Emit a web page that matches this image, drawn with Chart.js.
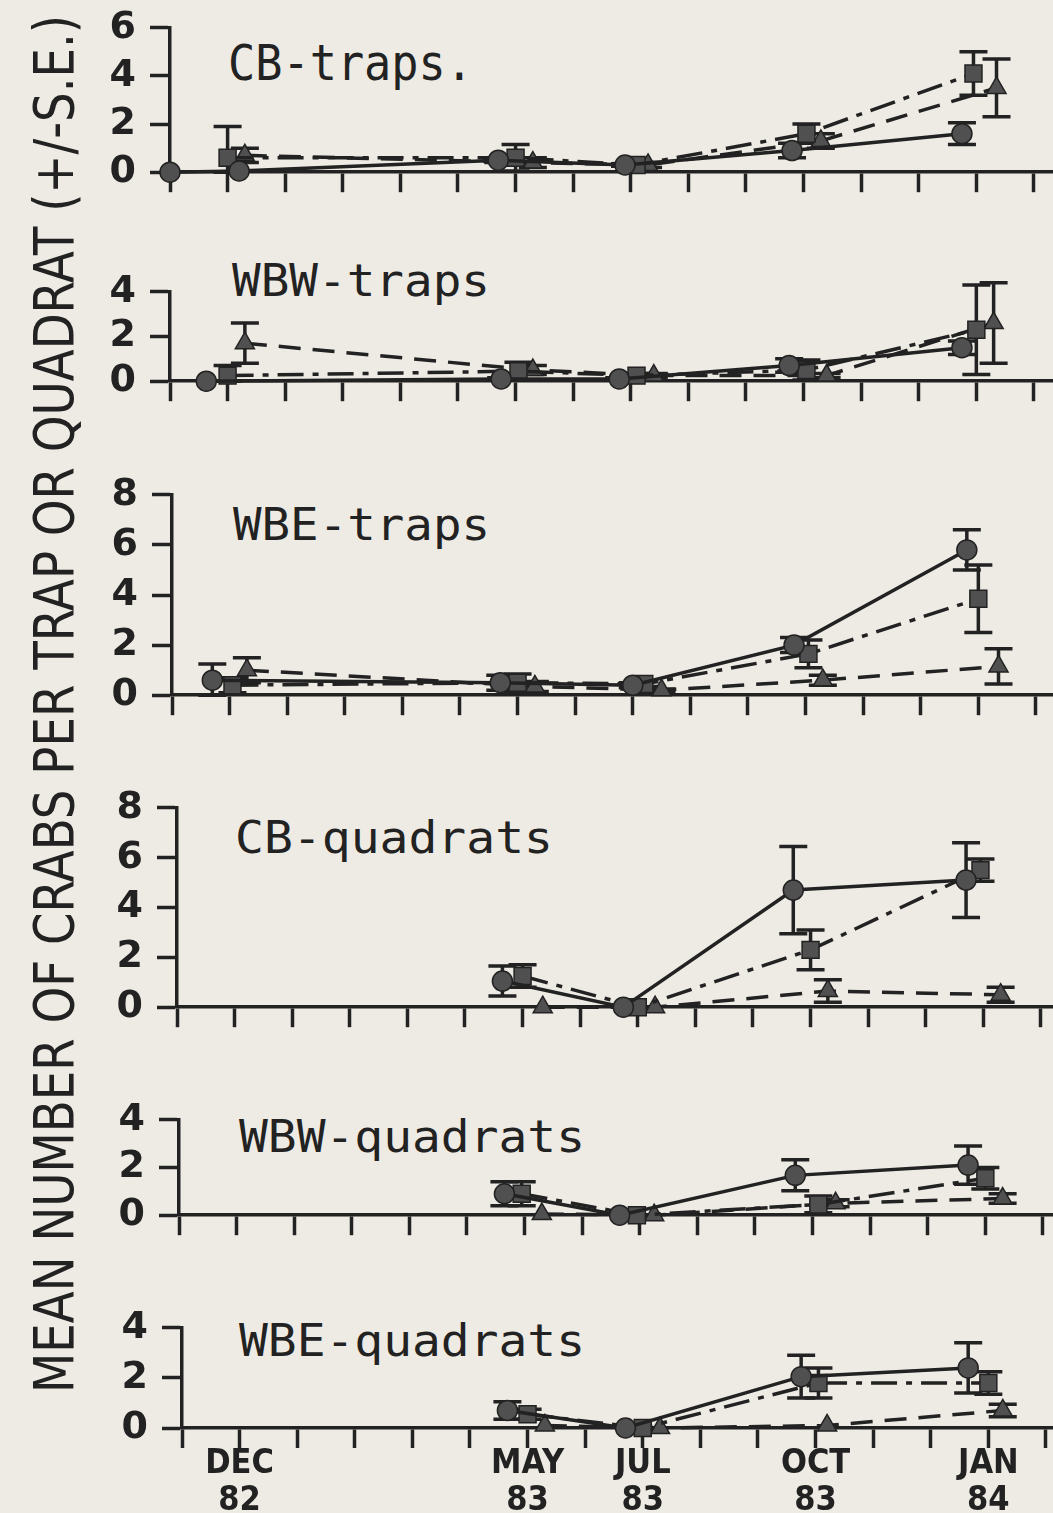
<!DOCTYPE html>
<html><head><meta charset="utf-8">
<script src="https://cdn.jsdelivr.net/npm/chart.js@4.4.0/dist/chart.umd.min.js"></script>
<style>
html,body{margin:0;padding:0;background:#eeebe4;width:1053px;height:1513px;overflow:hidden;position:relative;}
canvas{position:absolute;left:0;}
#ov{position:absolute;left:0;top:0;pointer-events:none;}
</style></head><body>
<svg id="ov" width="1053" height="1513" xmlns="http://www.w3.org/2000/svg"></svg>
<script>
// ---------- DATA ----------
// x = months after Nov 1982 (DEC 82 = 1, MAY 83 = 6, JUL 83 = 8, OCT 83 = 11, JAN 84 = 14);
// points of the three series are plotted slightly offset around each date, as in the original.
const MONTH_TICKS  = [1, 6, 8, 11, 14];
const MONTH_LABELS = [['DEC','82'], ['MAY','83'], ['JUL','83'], ['OCT','83'], ['JAN','84']];
const PANEL_TITLES = ['CB-traps.', 'WBW-traps', 'WBE-traps', 'CB-quadrats', 'WBW-quadrats', 'WBE-quadrats'];
const PANEL_YMAX   = [6, 4, 8, 8, 4, 4];
const Y_TITLE = 'MEAN NUMBER OF CRABS PER TRAP OR QUADRAT (+/-S.E.)';

// each panel: [circle/solid, square/dash-dot, triangle/dashed]
const CB_TRAPS_X  = [[0, 1.2, 5.7, 7.9, 10.8, 13.75], [1.0, 6.0, 8.1, 11.05, 13.95], [1.3, 6.3, 8.3, 11.3, 14.35]];
const CB_TRAPS_Y  = [[0, 0.05, 0.5, 0.3, 0.9, 1.6],   [0.6, 0.6, 0.3, 1.6, 4.1],     [0.7, 0.4, 0.3, 1.3, 3.5]];
const CB_TRAPS_SE = [[0, 0, 0.1, 0.05, 0.3, 0.45],    [1.3, 0.55, 0.1, 0.4, 0.9],    [0.3, 0.2, 0.1, 0.3, 1.2]];

const WBW_TRAPS_X  = [[0.63, 5.75, 7.8, 10.75, 13.75], [1.0, 6.05, 8.1, 11.05, 14.0], [1.3, 6.3, 8.4, 11.4, 14.3]];
const WBW_TRAPS_Y  = [[0, 0.1, 0.1, 0.7, 1.5],         [0.25, 0.45, 0.25, 0.5, 2.3], [1.7, 0.5, 0.25, 0.25, 2.6]];
const WBW_TRAPS_SE = [[0, 0.05, 0.05, 0.3, 0.3],       [0.45, 0.4, 0.1, 0.45, 2.0],  [0.9, 0.2, 0.1, 0.1, 1.8]];

const WBE_TRAPS_X  = [[0.7, 5.7, 8.0, 10.8, 13.8], [1.05, 6.0, 8.2, 11.05, 14.0], [1.3, 6.3, 8.5, 11.3, 14.35]];
const WBE_TRAPS_Y  = [[0.6, 0.5, 0.4, 2.0, 5.8],   [0.4, 0.5, 0.45, 1.65, 3.85],  [1.0, 0.35, 0.2, 0.6, 1.15]];
const WBE_TRAPS_SE = [[0.65, 0.3, 0.1, 0.3, 0.8],  [0.3, 0.35, 0.1, 0.55, 1.35],  [0.5, 0.2, 0.05, 0.2, 0.7]];

const CB_QUAD_X  = [[5.65, 7.75, 10.7, 13.7], [6.0, 8.0, 11.0, 13.95], [6.35, 8.3, 11.3, 14.3]];
const CB_QUAD_Y  = [[1.05, 0, 4.7, 5.1],      [1.25, 0, 2.3, 5.5],     [0, 0, 0.65, 0.5]];
const CB_QUAD_SE = [[0.6, 0, 1.75, 1.5],      [0.45, 0, 0.8, 0.45],    [0, 0, 0.45, 0.3]];

const WBW_QUAD_X  = [[5.65, 7.65, 10.7, 13.7], [5.95, 7.95, 11.1, 14.0], [6.3, 8.25, 11.4, 14.3]];
const WBW_QUAD_Y  = [[0.9, 0, 1.67, 2.1],      [0.9, 0, 0.45, 1.55],     [0.05, 0, 0.5, 0.7]];
const WBW_QUAD_SE = [[0.5, 0, 0.65, 0.8],      [0.5, 0, 0.35, 0.45],     [0, 0, 0.15, 0.2]];

const WBE_QUAD_X  = [[5.65, 7.7, 10.75, 13.65], [6.0, 8.0, 11.05, 14.0], [6.3, 8.3, 11.2, 14.25]];
const WBE_QUAD_Y  = [[0.7, 0, 2.05, 2.4],       [0.55, 0, 1.8, 1.8],     [0.1, 0, 0.1, 0.7]];
const WBE_QUAD_SE = [[0.35, 0, 0.85, 1.0],      [0.2, 0, 0.6, 0.45],     [0, 0, 0, 0.25]];

// ---------- STYLE / LAYOUT ----------
const INK = '#222222';
const MARK = '#505050';
const X_MAX = 15.6;                 // axis runs off the right edge of the page
const PX_PER_MONTH = 58.4;
const LAYOUT = [                    // page pixels: y-axis x, top tick y, zero line y
  {axisX:170, yTop:23,   y0:175},
  {axisX:170, yTop:287,  y0:384},
  {axisX:172, yTop:490,  y0:698},
  {axisX:177, yTop:803,  y0:1010},
  {axisX:179, yTop:1115, y0:1218},
  {axisX:182, yTop:1323, y0:1428}
];
const TITLE_POS = [
  {x:228, base:80,   w:245, size:50},
  {x:232, base:296,  w:258, size:44},
  {x:233, base:540,  w:257, size:44},
  {x:235, base:853,  w:318, size:44},
  {x:239, base:1152, w:346, size:44},
  {x:239, base:1356, w:346, size:44}
];
const SERIES_STYLE = [
  {pointStyle:'circle',   radius:10, dash:[]},
  {pointStyle:'rect',     radius:12, dash:[26, 9, 6, 9]},
  {pointStyle:'triangle', radius:11, dash:[22, 12]}
];
const PANEL_DATA = [
  [CB_TRAPS_X, CB_TRAPS_Y, CB_TRAPS_SE],
  [WBW_TRAPS_X, WBW_TRAPS_Y, WBW_TRAPS_SE],
  [WBE_TRAPS_X, WBE_TRAPS_Y, WBE_TRAPS_SE],
  [CB_QUAD_X, CB_QUAD_Y, CB_QUAD_SE],
  [WBW_QUAD_X, WBW_QUAD_Y, WBW_QUAD_SE],
  [WBE_QUAD_X, WBE_QUAD_Y, WBE_QUAD_SE]
];

// error bars drawn through the chart's own scales
const errorBars = {
  id: 'errorBars',
  beforeDatasetsDraw(chart) {
    const ctx = chart.ctx, xs = chart.scales.x, ys = chart.scales.y;
    chart.data.datasets.forEach(ds => {
      ctx.save();
      ctx.strokeStyle = INK; ctx.lineWidth = 3.5; ctx.setLineDash([]);
      ds.data.forEach((p, j) => {
        const s = ds.se[j];
        if (!s) return;
        const px = xs.getPixelForValue(p.x);
        const hi = ys.getPixelForValue(p.y + s);
        const lo = ys.getPixelForValue(Math.max(0, p.y - s));
        ctx.beginPath();
        ctx.moveTo(px, hi); ctx.lineTo(px, lo);
        ctx.moveTo(px - 14, hi); ctx.lineTo(px + 14, hi);
        ctx.moveTo(px - 14, lo); ctx.lineTo(px + 14, lo);
        ctx.stroke();
      });
      ctx.restore();
    });
  }
};

function xLabel(v) {
  const k = MONTH_TICKS.indexOf(v);
  return k >= 0 ? MONTH_LABELS[k] : '';
}

LAYOUT.forEach((L, i) => {
  const padTop = 32;
  const last = i === LAYOUT.length - 1;
  const xAxisH = last ? 110 : 34;
  const w = L.axisX + Math.ceil(X_MAX * PX_PER_MONTH);
  const h = padTop + (L.y0 - L.yTop) + xAxisH;
  const cv = document.createElement('canvas');
  cv.width = w; cv.height = h;
  cv.style.width = w + 'px'; cv.style.height = h + 'px';
  cv.style.top = (L.yTop - padTop) + 'px';
  document.body.appendChild(cv);

  const [X, Y, SE] = PANEL_DATA[i];
  const datasets = X.map((xs, k) => ({
    data: xs.map((x, j) => ({x, y: Y[k][j]})),
    se: SE[k],
    showLine: true,
    borderColor: INK,
    borderWidth: 3.5,
    borderDash: SERIES_STYLE[k].dash,
    pointStyle: SERIES_STYLE[k].pointStyle,
    pointRadius: SERIES_STYLE[k].radius,
    pointBackgroundColor: MARK,
    pointBorderColor: INK,
    pointBorderWidth: 1.5,
    tension: 0,
    clip: false
  }));

  new Chart(cv, {
    type: 'scatter',
    data: { datasets },
    plugins: [errorBars],
    options: {
      responsive: false,
      animation: false,
      events: [],
      devicePixelRatio: 1,
      layout: { padding: { top: padTop, left: 0, right: 0, bottom: 0 } },
      plugins: { legend: {display:false}, tooltip: {enabled:false}, title: {display:false} },
      scales: {
        x: {
          type: 'linear', position: 'bottom', min: 0, max: X_MAX,
          afterFit: s => { s.height = xAxisH; },
          grid: { drawOnChartArea: false, drawTicks: true, tickLength: 20, tickWidth: 3.5, tickColor: INK },
          border: { display: true, color: INK, width: 3.5 },
          ticks: {
            stepSize: 1, includeBounds: false, autoSkip: false, maxRotation: 0, minRotation: 0,
            padding: -2, color: INK,
            font: { family: 'DejaVu Sans Condensed', weight: 'bold', size: 34, lineHeight: 1.08 },
            callback: v => last ? xLabel(v) : ''
          }
        },
        y: {
          type: 'linear', position: 'left', min: 0, max: PANEL_YMAX[i],
          afterFit: s => { s.width = L.axisX; },
          grid: { drawOnChartArea: false, drawTicks: true, tickLength: 20, tickWidth: 3.5, tickColor: INK },
          border: { display: true, color: INK, width: 3.5 },
          ticks: { stepSize: 2, padding: 14, color: INK, font: { family: 'DejaVu Sans', weight: 'bold', size: 38 } }
        }
      }
    }
  });
});

// titles as real SVG text
const NS = 'http://www.w3.org/2000/svg';
const ov = document.getElementById('ov');
function addText(str, attrs) {
  const t = document.createElementNS(NS, 'text');
  for (const k in attrs) t.setAttribute(k, attrs[k]);
  t.textContent = str;
  ov.appendChild(t);
}
PANEL_TITLES.forEach((s, i) => {
  const p = TITLE_POS[i];
  addText(s, { x: p.x, y: p.base, 'font-family': 'DejaVu Sans Mono', 'font-size': p.size,
    fill: INK, textLength: p.w, lengthAdjust: 'spacingAndGlyphs' });
});
addText(Y_TITLE, { x: 0, y: 0, transform: 'translate(73,1393) rotate(-90)',
  'font-family': 'DejaVu Sans Condensed', 'font-size': 56,
  fill: INK, textLength: 1378, lengthAdjust: 'spacingAndGlyphs' });
</script>
</body></html>
